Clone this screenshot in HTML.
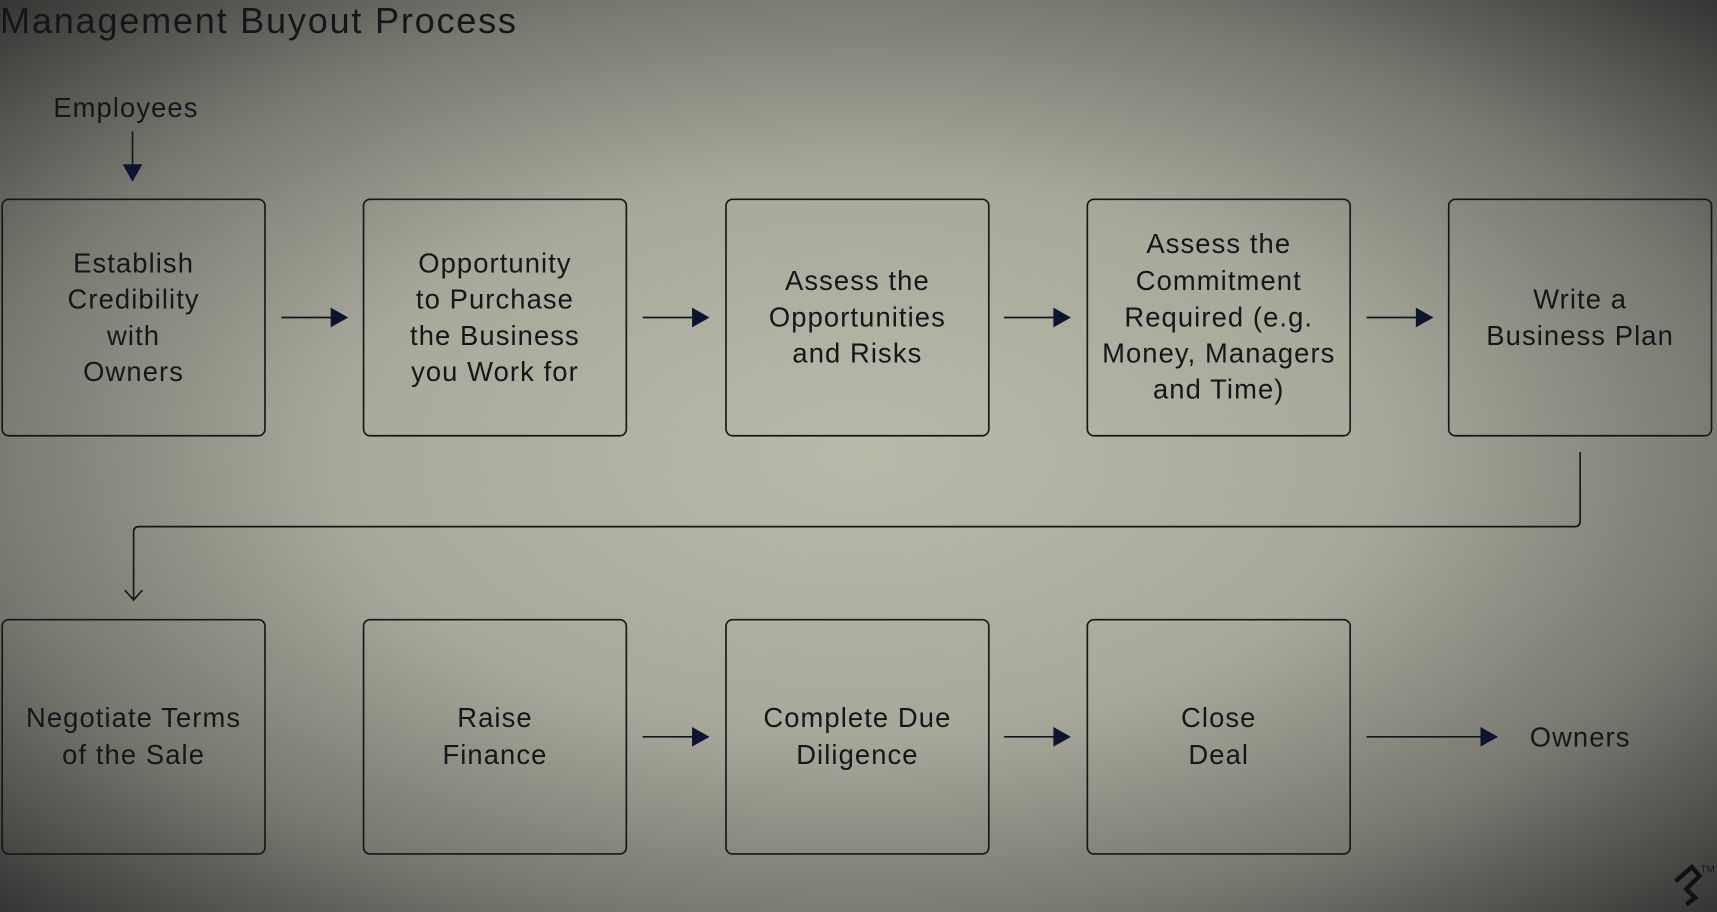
<!DOCTYPE html>
<html><head><meta charset="utf-8"><style>
html,body{margin:0;padding:0;width:1717px;height:912px;overflow:hidden;background:#555}
svg{display:block}
text{font-family:"Liberation Sans",sans-serif;fill:#16161a}
</style></head><body>
<svg width="1717" height="912" viewBox="0 0 1568 833" preserveAspectRatio="none">
<defs>
<radialGradient id="bg" cx="0.5" cy="0.5" r="0.72" gradientUnits="objectBoundingBox">
<stop offset="0" stop-color="#b9baab"/>
<stop offset="0.42" stop-color="#a8a89b"/>
<stop offset="0.72" stop-color="#77776f"/>
<stop offset="1" stop-color="#303030"/>
</radialGradient>
<marker id="ao" markerWidth="20" markerHeight="20" refX="10" refY="10" orient="auto" markerUnits="userSpaceOnUse"><path d="M1,2 L10,10 L1,18" fill="none" stroke="#16161a" stroke-width="1.5"/></marker>
</defs>
<rect width="1568" height="833" fill="url(#bg)"/>
<text x="0" y="30" font-size="33" letter-spacing="1.6">Management Buyout Process</text>
<text x="115" y="107" font-size="25" text-anchor="middle" letter-spacing="1">Employees</text>
<line x1="121" y1="120" x2="121" y2="150" stroke="#16161a" stroke-width="1.5"/>
<path d="M112,150 L130,150 L121,166 z" fill="#0e1430"/>
<g fill="none" stroke="#16161a" stroke-width="1.5">
<rect x="2" y="182" width="240" height="216" rx="6"/>
<rect x="332" y="182" width="240" height="216" rx="6"/>
<rect x="663" y="182" width="240" height="216" rx="6"/>
<rect x="993" y="182" width="240" height="216" rx="6"/>
<rect x="1323" y="182" width="240" height="216" rx="6"/>
<rect x="2" y="566" width="240" height="214" rx="6"/>
<rect x="332" y="566" width="240" height="214" rx="6"/>
<rect x="663" y="566" width="240" height="214" rx="6"/>
<rect x="993" y="566" width="240" height="214" rx="6"/>
<path d="M1443,413 L1443,476 Q1443,481 1438,481 L127,481 Q122,481 122,486 L122,548" marker-end="url(#ao)"/>
</g>
<g stroke="#16161a" stroke-width="1.5">
<line x1="257" y1="290" x2="303" y2="290"/><line x1="587" y1="290" x2="633" y2="290"/>
<line x1="917" y1="290" x2="963" y2="290"/><line x1="1248" y1="290" x2="1294" y2="290"/>
<line x1="587" y1="673" x2="633" y2="673"/><line x1="917" y1="673" x2="963" y2="673"/>
<line x1="1248" y1="673" x2="1353" y2="673"/>
</g>
<g fill="#0e1430">
<path d="M302,281 L318,290 L302,299z"/><path d="M632,281 L648,290 L632,299z"/>
<path d="M962,281 L978,290 L962,299z"/><path d="M1293,281 L1309,290 L1293,299z"/>
<path d="M632,664 L648,673 L632,682z"/><path d="M962,664 L978,673 L962,682z"/>
<path d="M1352,664 L1368,673 L1352,682z"/>
</g>
<g font-size="25" text-anchor="middle" letter-spacing="1">
<text x="122" y="249">Establish</text><text x="122" y="282">Credibility</text><text x="122" y="315">with</text><text x="122" y="348">Owners</text>
<text x="452" y="249">Opportunity</text><text x="452" y="282">to Purchase</text><text x="452" y="315">the Business</text><text x="452" y="348">you Work for</text>
<text x="783" y="265">Assess the</text><text x="783" y="298">Opportunities</text><text x="783" y="331">and Risks</text>
<text x="1113" y="231">Assess the</text><text x="1113" y="265">Commitment</text><text x="1113" y="298">Required (e.g.</text><text x="1113" y="331">Money, Managers</text><text x="1113" y="364">and Time)</text>
<text x="1443" y="282">Write a</text><text x="1443" y="315">Business Plan</text>
<text x="122" y="664">Negotiate Terms</text><text x="122" y="698">of the Sale</text>
<text x="452" y="664">Raise</text><text x="452" y="698">Finance</text>
<text x="783" y="664">Complete Due</text><text x="783" y="698">Diligence</text>
<text x="1113" y="664">Close</text><text x="1113" y="698">Deal</text>
<text x="1443" y="682">Owners</text>
</g>
<path d="M1530,805 L1545,792 L1552,800 L1540,812 L1548,820 L1540,826" fill="none" stroke="#111" stroke-width="4"/>
<text x="1553" y="797" font-size="9">TM</text>
</svg>
</body></html>
